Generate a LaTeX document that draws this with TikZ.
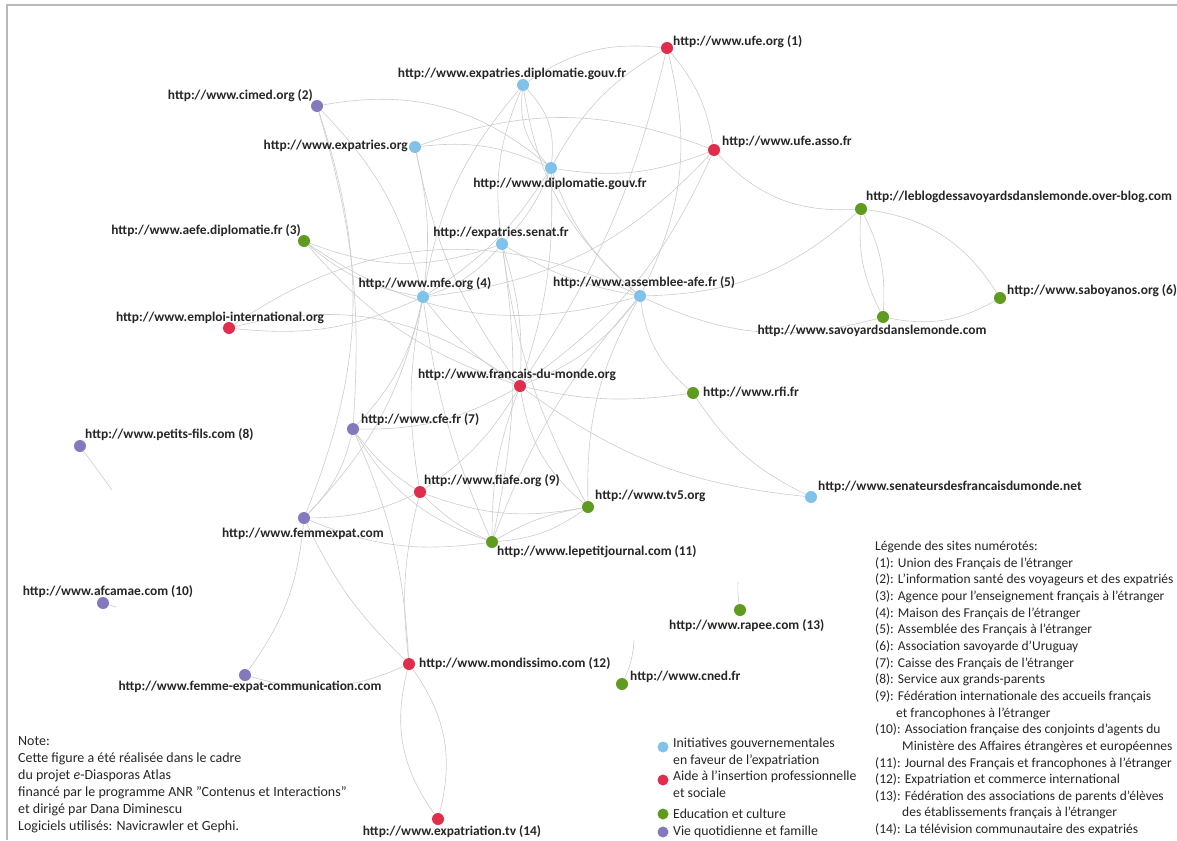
\documentclass[tikz,border=0pt]{standalone}
\usepackage{fontspec}
\setmainfont{Carlito}
\usetikzlibrary{backgrounds}
\definecolor{cblue}{HTML}{80C2E8}
\definecolor{cred}{HTML}{E02D4B}
\definecolor{cgreen}{HTML}{5F9B1E}
\definecolor{cpurple}{HTML}{8579BE}
\definecolor{edgecol}{HTML}{CDCDCD}
\begin{document}
\begin{tikzpicture}[x=1pt,y=-1pt,
  dot/.style={circle,inner sep=0pt,minimum size=12pt},
  bl/.style={dot,fill=cblue},
  rd/.style={dot,fill=cred},
  gr/.style={dot,fill=cgreen},
  pu/.style={dot,fill=cpurple},
  lab/.style={font=\bfseries\fontsize{13.4}{15}\selectfont, inner sep=0pt, text=black!85},
  txt/.style={font=\fontsize{13.5}{16.65}\selectfont, inner sep=0pt, align=left, text=black!85},
  ed/.style={draw=edgecol, line width=0.6pt},
]
\useasboundingbox (0,0) rectangle (1177,840);
% nodes
\node[rd] (ufe) at (667,48) {};
\node[bl] (expd) at (523,85) {};
\node[pu] (cimed) at (317,106) {};
\node[bl] (expo) at (415,147) {};
\node[bl] (dipl) at (551,168) {};
\node[rd] (ufea) at (714,150) {};
\node[gr] (blog) at (861,209) {};
\node[gr] (aefe) at (304,241) {};
\node[bl] (senat) at (502,244) {};
\node[bl] (mfe) at (423,297) {};
\node[bl] (afe) at (640,296) {};
\node[gr] (sabo) at (1000,298) {};
\node[gr] (savo) at (883,317) {};
\node[rd] (emploi) at (229,328) {};
\node[rd] (fdm) at (520,386) {};
\node[gr] (rfi) at (693,393) {};
\node[pu] (cfe) at (353,429) {};
\node[pu] (petits) at (80,446) {};
\node[rd] (fiafe) at (420,492) {};
\node[gr] (tv5) at (588,507) {};
\node[bl] (senateurs) at (811,497) {};
\node[pu] (femmexpat) at (304,518) {};
\node[gr] (lpj) at (492,542) {};
\node[pu] (afcamae) at (103,603) {};
\node[gr] (rapee) at (740,610) {};
\node[rd] (mondissimo) at (409,664) {};
\node[gr] (cned) at (622,684) {};
\node[pu] (fecomm) at (245,675) {};
\node[rd] (exptv) at (438,819) {};
\coordinate (petitsend) at (112,490);
\coordinate (afcend) at (116,607);
\coordinate (rapeeend) at (738,582);
\coordinate (cnedend) at (634,640);
% labels
\node[lab,anchor=west] (ufeL) at (673,42) {http://www.ufe.org (1)};
\node[lab] (expdL) at (512,74) {http://www.expatries.diplomatie.gouv.fr};
\node[lab,anchor=east] (cimedL) at (313,96) {http://www.cimed.org (2)};
\node[lab,anchor=east] (expoL) at (408,146) {http://www.expatries.org};
\node[lab] (diplL) at (560,184) {http://www.diplomatie.gouv.fr};
\node[lab,anchor=west] (ufeaL) at (722,142) {http://www.ufe.asso.fr};
\node[lab,anchor=west] (blogL) at (866,197) {http://leblogdessavoyardsdanslemonde.over-blog.com};
\node[lab,anchor=east] (aefeL) at (301,231) {http://www.aefe.diplomatie.fr (3)};
\node[lab] (senatL) at (501,233) {http://expatries.senat.fr};
\node[lab] (mfeL) at (425,284) {http://www.mfe.org (4)};
\node[lab,anchor=west] (afeL) at (553,283) {http://www.assemblee-afe.fr (5)};
\node[lab,anchor=west] (saboL) at (1007,291) {http://www.saboyanos.org (6)};
\node[lab] (savoL) at (872,331) {http://www.savoyardsdanslemonde.com};
\node[lab] (emploiL) at (220,318) {http://www.emploi-international.org};
\node[lab] (fdmL) at (517,375) {http://www.francais-du-monde.org};
\node[lab,anchor=west] (rfiL) at (703,393) {http://www.rfi.fr};
\node[lab,anchor=west] (cfeL) at (361,420) {http://www.cfe.fr (7)};
\node[lab,anchor=west] (petitsL) at (85,435) {http://www.petits-fils.com (8)};
\node[lab,anchor=west] (fiafeL) at (424,481) {http://www.fiafe.org (9)};
\node[lab,anchor=west] (tv5L) at (595,496) {http://www.tv5.org};
\node[lab,anchor=west] (senateursL) at (818,487) {http://www.senateursdesfrancaisdumonde.net};
\node[lab] (femmexpatL) at (303,534) {http://www.femmexpat.com};
\node[lab,anchor=west] (lpjL) at (497,552) {http://www.lepetitjournal.com (11)};
\node[lab] (afcamaeL) at (108,592) {http://www.afcamae.com (10)};
\node[lab,anchor=west] (rapeeL) at (669,626) {http://www.rapee.com (13)};
\node[lab,anchor=west] (mondissimoL) at (419,664) {http://www.mondissimo.com (12)};
\node[lab,anchor=west] (cnedL) at (630,677) {http://www.cned.fr};
\node[lab] (fecommL) at (250,687) {http://www.femme-expat-communication.com};
\node[lab] (exptvL) at (452,832) {http://www.expatriation.tv (14)};
% edges
\begin{scope}[on background layer]
\fill[white] (0,0) rectangle (1177,840);
\draw[gray!55, line width=2pt] (1177,5) -- (7,5) -- (7,840);
\foreach \a/\b/\c in {
 cimed/dipl/25, cimed/mfe/15, cimed/femmexpat/20, cimed/cfe/10,
 expo/dipl/15, expo/mfe/10, expo/fdm/-12, expo/ufea/20,
 expd/dipl/25, dipl/expd/25, expd/ufe/20, expd/senat/-15, expd/afe/-20, expd/mfe/-15,
 ufe/ufea/15, ufe/afe/20, ufe/dipl/-15, ufe/fdm/10,
 ufea/blog/-25, ufea/mfe/20, ufea/dipl/15, ufea/fdm/15,
 blog/savo/15, savo/blog/15, blog/sabo/25, blog/afe/20, savo/sabo/-20, afe/savo/-20,
 aefe/mfe/-15, aefe/senat/-20, aefe/afe/-25, aefe/fdm/-15,
 senat/mfe/15, senat/afe/-10, senat/dipl/-10, senat/fdm/10, senat/tv5/-10, senat/lpj/10,
 mfe/fdm/-10, mfe/cfe/15, emploi/mfe/-15, mfe/femmexpat/15, mfe/fiafe/-10, mfe/lpj/-8,
 afe/rfi/-20, afe/tv5/-15, afe/fdm/15, afe/lpj/-10, dipl/afe/-15, dipl/fdm/10, dipl/mfe/12,
 emploi/fdm/25, emploi/afe/30,
 fdm/rfi/-10, fdm/tv5/-20, fdm/cfe/15, fdm/fiafe/12, fdm/senateurs/-15, fdm/lpj/-10,
 rfi/senateurs/-15,
 cfe/fiafe/-10, cfe/femmexpat/15, cfe/lpj/-20, cfe/mondissimo/10,
 fiafe/femmexpat/12, fiafe/lpj/-10, fiafe/tv5/-15, fiafe/mondissimo/-10,
 tv5/lpj/15, lpj/tv5/10, femmexpat/lpj/-15, femmexpat/fecomm/15, femmexpat/mondissimo/-10,
 fecomm/mondissimo/-20, mondissimo/exptv/25, exptv/mondissimo/25,
 petits/petitsend/0, afcamae/afcend/0, rapee/rapeeend/5, cned/cnedend/-10}
 {\draw[ed] (\a) to[bend left=\c] (\b);}
\end{scope}
% legend of categories
\node[bl,minimum size=11pt] (lgb) at (663,747) {};
\node[rd,minimum size=11pt] (lgr) at (663,780) {};
\node[gr,minimum size=11pt] (lgg) at (663,814) {};
\node[pu,minimum size=11pt] (lgp) at (663,832) {};
\node[txt,anchor=north west,font=\fontsize{13.8}{16.6}\selectfont] (lgbT) at (673,738) {Initiatives gouvernementales\\en faveur de l'expatriation};
\node[txt,anchor=north west,font=\fontsize{13.8}{16.6}\selectfont] (lgrT) at (673,771) {Aide à l'insertion professionnelle\\et sociale};
\node[txt,anchor=west,font=\fontsize{13.8}{16.6}\selectfont] (lggT) at (673,814) {Education et culture};
\node[txt,anchor=west,font=\fontsize{13.8}{16.6}\selectfont] (lgpT) at (673,832) {Vie quotidienne et famille};
% note
\node[txt,anchor=north west,font=\fontsize{14}{17}\selectfont] (note) at (18,736) {Note:\\Cette figure a été réalisée dans le cadre\\du projet \textit{e}-Diasporas Atlas\\financé par le programme ANR "Contenus et Interactions"\\et dirigé par Dana Diminescu\\Logiciels utilisés: Navicrawler et Gephi.};
% sites legend
\node[txt,anchor=north west] (sites) at (875,541) {Légende des sites numérotés:\\
(1): Union des Français de l'étranger\\
(2): L'information santé des voyageurs et des expatriés\\
(3): Agence pour l'enseignement français à l'étranger\\
(4): Maison des Français de l'étranger\\
(5): Assemblée des Français à l'étranger\\
(6): Association savoyarde d'Uruguay\\
(7): Caisse des Français de l'étranger\\
(8): Service aux grands-parents\\
(9): Fédération internationale des accueils français\\
\hspace*{21pt}et francophones à l'étranger\\
(10): Association française des conjoints d'agents du\\
\hspace*{27pt}Ministère des Affaires étrangères et européennes\\
(11): Journal des Français et francophones à l'étranger\\
(12): Expatriation et commerce international\\
(13): Fédération des associations de parents d'élèves\\
\hspace*{27pt}des établissements français à l'étranger\\
(14): La télévision communautaire des expatriés};
\end{tikzpicture}
\end{document}
